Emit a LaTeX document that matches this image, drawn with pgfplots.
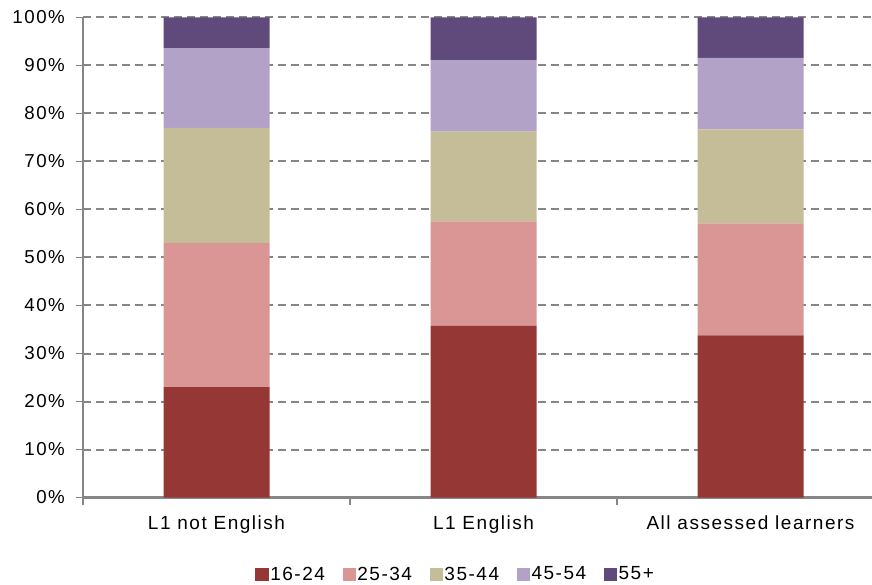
\documentclass[border=0pt]{standalone}
\usepackage{pgfplots}
\pgfplotsset{compat=1.18}
\usepackage{fontspec}
\setmainfont{Liberation Sans}[LetterSpace=8]
\definecolor{c1}{HTML}{953735}
\definecolor{c2}{HTML}{D99694}
\definecolor{c3}{HTML}{C4BD97}
\definecolor{c4}{HTML}{B3A2C7}
\definecolor{c5}{HTML}{604A7B}
\definecolor{axgray}{HTML}{868686}
\begin{document}
\fontsize{18bp}{21bp}\selectfont
\begin{tikzpicture}
\begin{axis}[name=ax, scale only axis, width=789bp, height=480bp,
  ybar stacked, bar width=106bp,
  xmin=-0.5, xmax=2.455, ymin=0, ymax=100,
  xtick={0,1,2}, xticklabels={L1 not English, L1 English, All assessed learners},
  major x tick style={draw=none},
  minor xtick={-0.5,0.5,1.5},
  minor tick length=7bp, major tick length=7bp,
  tick align=outside,
  ytick={0,10,...,100},
  yticklabels={0\%,10\%,20\%,30\%,40\%,50\%,60\%,70\%,80\%,90\%,100\%},
  ymajorgrids,
  grid style={axgray, line width=2bp, dash pattern=on 8bp off 5bp},
  axis x line*=bottom, axis y line*=left,
  axis line style={axgray, line width=2.2bp, -},
  tick style={axgray, line width=1.4bp},
  x tick label style={font=\fontsize{19bp}{22bp}\selectfont, yshift=-5bp},
  y tick label style={font=\fontsize{18.7bp}{21bp}\selectfont, xshift=-5bp},
  legend style={at={(0.472,-0.161)}, anchor=center, draw=none, fill=none,
    legend columns=-1, font=\fontsize{19bp}{22bp}\selectfont,
    /tikz/every even column/.append style={column sep=16bp},
    nodes={inner xsep=1.5bp, inner ysep=1bp}},
  legend image code/.code={\fill[#1] (0bp,-6.7bp) rectangle (13.4bp,6.7bp);},
]
\addplot[fill=c1, draw=none] coordinates {(0,23.0) (1,35.8) (2,33.8)};
\addplot[fill=c2, draw=none] coordinates {(0,30.0) (1,21.7) (2,23.3)};
\addplot[fill=c3, draw=none] coordinates {(0,24.0) (1,18.7) (2,19.6)};
\addplot[fill=c4, draw=none] coordinates {(0,16.6) (1,14.9) (2,14.9)};
\addplot[fill=c5, draw=none] coordinates {(0,6.4) (1,8.9) (2,8.4)};
\legend{16-24,25-34,35-44,45-54,55+}
\end{axis}
\pgfresetboundingbox
\path ([xshift=-83bp,yshift=-87.5bp]ax.south west) rectangle ([yshift=17.5bp]ax.north east);
\end{tikzpicture}
\end{document}
